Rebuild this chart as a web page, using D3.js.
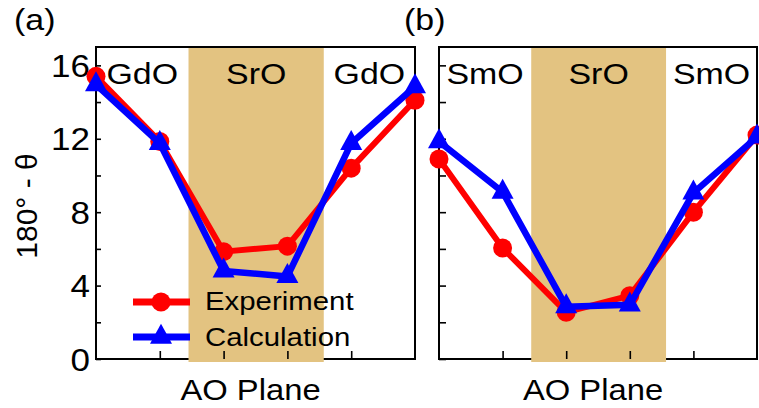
<!DOCTYPE html>
<html>
<head>
<meta charset="utf-8">
<script src="https://cdn.jsdelivr.net/npm/d3@7"></script>
<style>
  html, body { margin: 0; padding: 0; background: #fff; }
  svg { display: block; }
  text { font-family: "Liberation Sans", Arial, Helvetica, sans-serif; fill: #000; }
</style>
</head>
<body>
<svg id="chart" width="759" height="408"></svg>
<script>
// AO-plane positions across the interface (six planes per panel)
const planes = [0, 1, 2, 3, 4, 5];

// Panel (a): GdO / SrO / GdO
const expA  = [15.4, 11.85, 5.85, 6.15, 10.4, 14.1];
const calcA = [14.95, 11.75, 4.8, 4.5, 11.75, 14.85];
const regionsA = ["GdO", "SrO", "GdO"];

// Panel (b): SmO / SrO / SmO
const expB  = [10.9, 6.05, 2.55, 3.45, 8.0, 12.2];
const calcB = [11.85, 9.1, 2.85, 2.95, 9.05, 12.1];
const regionsB = ["SmO", "SrO", "SmO"];

// SrO band extent, in plane units
const srBand = [1.45, 3.57];

// Axis ticks
const yTicks = [0, 2, 4, 6, 8, 10, 12, 14, 16];
const yLabelled = [0, 4, 8, 12, 16];
const xTicks = [1, 2, 3, 4];

const seriesNames = ["Experiment", "Calculation"];
const colors = { exp: "#ff0000", calc: "#0000ff" };
const shade = "#e3c381";
const SX = 1.13; // horizontal text stretch

const svg = d3.select("#chart");

const y = d3.scaleLinear().domain([0, 17]).range([359, 47]);

function stretched(g, x, yy, str, size, anchor) {
  return g.append("text")
    .attr("transform", `translate(${x},${yy}) scale(${SX},1)`)
    .attr("text-anchor", anchor)
    .style("font-size", size + "px")
    .text(str);
}

function triPath(w, h) {
  return `M0,${-h * 2 / 3}L${w / 2},${h / 3}L${-w / 2},${h / 3}Z`;
}

function drawPanel(opts) {
  const x = d3.scaleLinear().domain([0, 5]).range(opts.range);
  const g = svg.append("g");

  // frame
  g.append("rect")
    .attr("x", x(0)).attr("y", y(17))
    .attr("width", x(5) - x(0)).attr("height", y(0) - y(17))
    .attr("fill", "none").attr("stroke", "#000").attr("stroke-width", 2);

  // SrO band
  g.append("rect")
    .attr("x", x(srBand[0])).attr("y", y(17) + 1)
    .attr("width", x(srBand[1]) - x(srBand[0]))
    .attr("height", y(0) - y(17) + 2)
    .attr("fill", shade);

  // y axis ticks (inward)
  const yAxis = d3.axisLeft(y).tickValues(yTicks)
    .tickSize(-opts.yTickLen).tickPadding(6)
    .tickFormat(d => (opts.yLabels && yLabelled.includes(d)) ? d : "");
  const ya = g.append("g").attr("transform", `translate(${x(0)},0)`).call(yAxis);
  ya.select(".domain").remove();
  ya.selectAll(".tick line").attr("stroke", "#000").attr("stroke-width", 1.6);
  ya.selectAll(".tick text")
    .attr("transform", function () { return `translate(${+d3.select(this).attr("x")},0) scale(${SX},1)`; })
    .attr("x", 0).attr("dy", "0.36em")
    .style("font-size", "31px").style("font-family", "Liberation Sans, Arial, sans-serif");

  // x axis ticks (inward)
  const xAxis = d3.axisBottom(x).tickValues(xTicks).tickSize(-8).tickFormat("");
  const xa = g.append("g").attr("transform", `translate(0,${y(0)})`).call(xAxis);
  xa.select(".domain").remove();
  xa.selectAll(".tick line").attr("stroke", "#000").attr("stroke-width", 1.6);

  // region labels
  const labelPos = [(x(0) + x(srBand[0])) / 2, (x(srBand[0]) + x(srBand[1])) / 2, (x(srBand[1]) + x(5)) / 2];
  opts.regions.forEach((r, i) => stretched(g, labelPos[i], 84, r, 30, "middle"));

  // series
  const line = d3.line().x((d, i) => x(planes[i])).y(d => y(d));
  g.append("path").datum(opts.exp).attr("d", line)
    .attr("fill", "none").attr("stroke", colors.exp).attr("stroke-width", 6).attr("stroke-linejoin", "round");
  g.selectAll(".pt-exp").data(opts.exp).join("circle")
    .attr("cx", (d, i) => x(planes[i])).attr("cy", d => y(d)).attr("r", 9.5).attr("fill", colors.exp);
  g.append("path").datum(opts.calc).attr("d", line)
    .attr("fill", "none").attr("stroke", colors.calc).attr("stroke-width", 6.5).attr("stroke-linejoin", "round");
  g.selectAll(".pt-calc").data(opts.calc).join("path")
    .attr("transform", (d, i) => `translate(${x(planes[i])},${y(d)})`)
    .attr("d", triPath(22, 20)).attr("fill", colors.calc);

  // axis title
  stretched(g, (x(0) + x(5)) / 2 - 5, 400, "AO Plane", 29, "middle");

  // panel tag
  stretched(g, opts.tagX, 30, opts.tag, 30, "start");

  return { g, x };
}

drawPanel({ range: [96, 415], exp: expA, calc: calcA, regions: regionsA, yLabels: true, yTickLen: 5, tag: "(a)", tagX: 14 });
drawPanel({ range: [439, 757], exp: expB, calc: calcB, regions: regionsB, yLabels: false, yTickLen: 7, tag: "(b)", tagX: 404 });

// y axis title
svg.append("text")
  .attr("transform", "translate(37,206) rotate(-90)")
  .attr("text-anchor", "middle")
  .style("font-size", "30px")
  .text("180° - θ");

// legend
const leg = svg.append("g");
const legRows = [
  { name: seriesNames[0], color: colors.exp, mark: "circle", y: 302, base: 310 },
  { name: seriesNames[1], color: colors.calc, mark: "tri", y: 337, base: 346 }
];
legRows.forEach(r => {
  leg.append("line").attr("x1", 133).attr("x2", 190).attr("y1", r.y).attr("y2", r.y)
    .attr("stroke", r.color).attr("stroke-width", 7);
  if (r.mark === "circle") {
    leg.append("circle").attr("cx", 161).attr("cy", r.y).attr("r", 9.5).attr("fill", r.color);
  } else {
    leg.append("path").attr("transform", `translate(161,${r.y})`).attr("d", triPath(22, 20)).attr("fill", r.color);
  }
  stretched(leg, 205, r.base, r.name, 26, "start");
});
</script>
</body>
</html>
